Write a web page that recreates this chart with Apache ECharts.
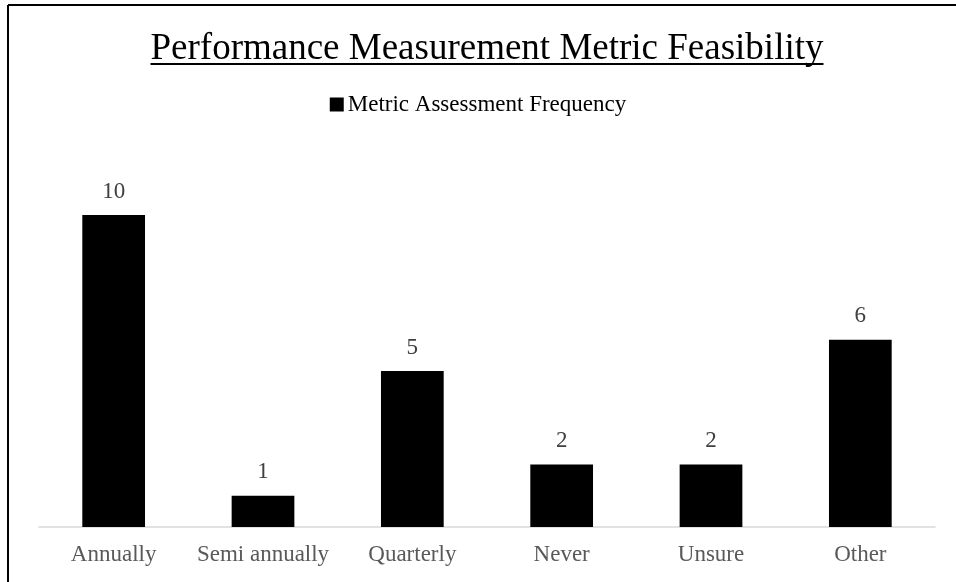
<!DOCTYPE html>
<html>
<head>
<meta charset="utf-8">
<script src="https://cdn.jsdelivr.net/npm/echarts@6/dist/echarts.min.js"></script>
<style>
html,body{margin:0;padding:0;background:#fff;}
#chart{width:956px;height:582px;}
</style>
</head>
<body>
<div id="chart"></div>
<script>
const titleText = 'Performance Measurement Metric Feasibility';
const seriesName = 'Metric Assessment Frequency';
const categories = ['Annually', 'Semi annually', 'Quarterly', 'Never', 'Unsure', 'Other'];
const values = [10, 1, 5, 2, 2, 6];

const FONT = '"Liberation Serif", "Times New Roman", serif';
const titleSize = 37;
const cv = document.createElement('canvas').getContext('2d');
cv.font = titleSize + 'px ' + FONT;
const tw = cv.measureText(titleText).width;
const centerX = 487;
const titleLeft = centerX - tw / 2;
const titleTop = 31;

const chart = echarts.init(document.getElementById('chart'));
chart.setOption({
  backgroundColor: '#ffffff',
  animation: false,
  title: {
    text: titleText,
    left: titleLeft,
    top: titleTop,
    padding: 0,
    textStyle: { fontFamily: FONT, fontSize: titleSize, fontWeight: 'normal', color: '#000' }
  },
  legend: {
    data: [seriesName],
    left: 'center',
    top: 93,
    padding: 0,
    icon: 'rect',
    itemWidth: 14,
    itemHeight: 14,
    itemGap: 4,
    textStyle: { fontFamily: FONT, fontSize: 23, color: '#000', padding: [0,0,0,-1] }
  },
  grid: { left: 39, right: 21, top: 152.6, bottom: 55, containLabel: false },
  xAxis: {
    type: 'category',
    data: categories,
    axisLine: { lineStyle: { color: '#d9d9d9', width: 1.5 } },
    axisTick: { show: false },
    axisLabel: { interval: 0, fontFamily: FONT, fontSize: 23, color: '#595959', margin: 16 }
  },
  yAxis: {
    type: 'value', min: 0, max: 12, interval: 2,
    show: false,
    splitLine: { show: false }
  },
  series: [{
    name: seriesName,
    type: 'bar',
    data: values,
    barWidth: '42%',
    itemStyle: { color: '#000' },
    label: { show: true, position: 'top', distance: 12, fontFamily: FONT, fontSize: 23, color: '#404040' }
  }],
  graphic: [
    { type: 'line', shape: { x1: titleLeft, y1: 64, x2: titleLeft + tw, y2: 64 }, style: { stroke: '#000', lineWidth: 2 } },
    { type: 'line', shape: { x1: 8, y1: 5, x2: 956, y2: 5 }, style: { stroke: '#000', lineWidth: 2 } },
    { type: 'line', shape: { x1: 8, y1: 5, x2: 8, y2: 582 }, style: { stroke: '#000', lineWidth: 2 } }
  ]
});
</script>
</body>
</html>
